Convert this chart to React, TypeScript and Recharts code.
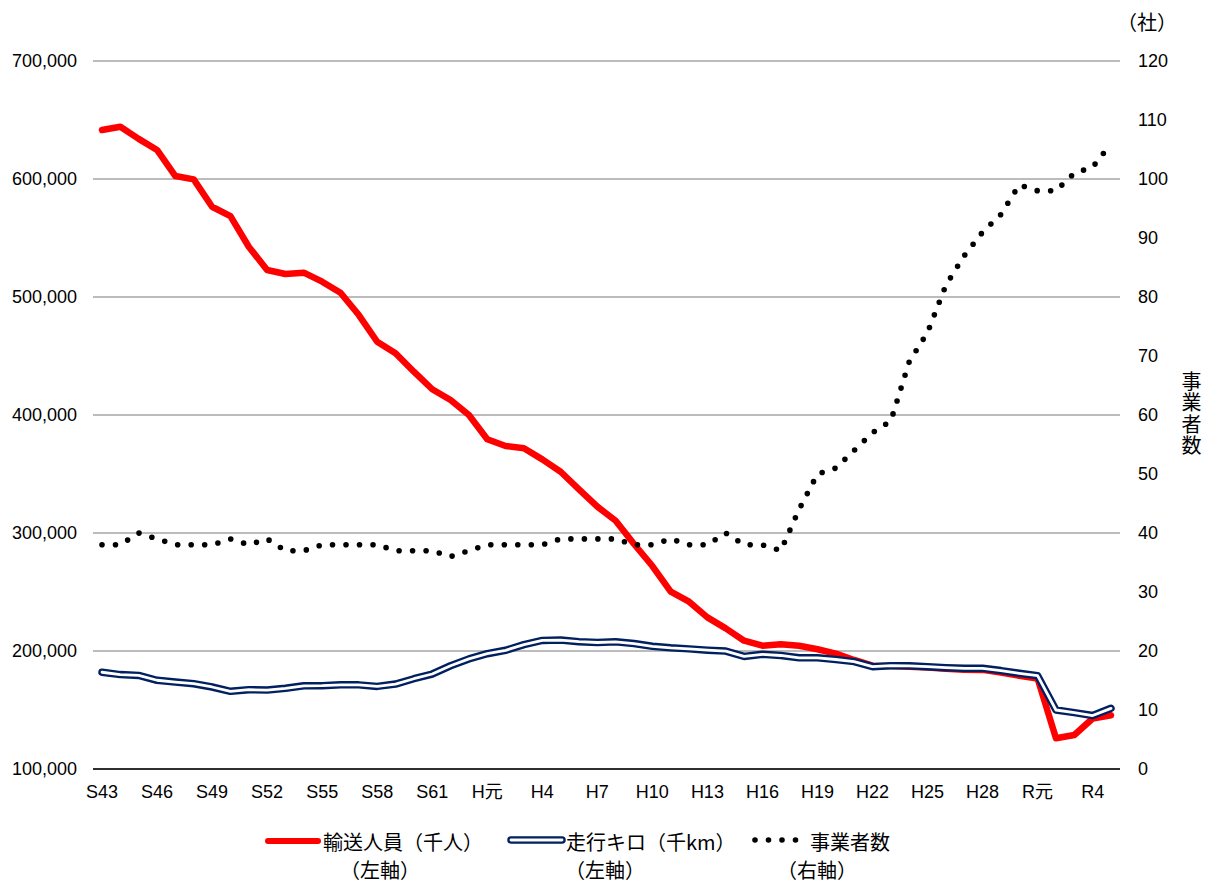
import { CartesianGrid, Line, LineChart, XAxis, YAxis } from "recharts";

// fiscal years S43 (1968) .. R5 (2023)
const years = [
  "S43", "S44", "S45", "S46", "S47", "S48", "S49", "S50", "S51", "S52",
  "S53", "S54", "S55", "S56", "S57", "S58", "S59", "S60", "S61", "S62",
  "S63", "H元", "H2", "H3", "H4", "H5", "H6", "H7", "H8", "H9",
  "H10", "H11", "H12", "H13", "H14", "H15", "H16", "H17", "H18", "H19",
  "H20", "H21", "H22", "H23", "H24", "H25", "H26", "H27", "H28", "H29",
  "H30", "R元", "R2", "R3", "R4", "R5",
];

// 輸送人員（千人）
const passengers = [
  641500, 644300, 634000, 624600, 602500, 599700, 576500, 568600, 542600, 522900,
  519500, 520600, 513000, 503600, 484700, 462100, 452300, 436700, 421800, 412700,
  400000, 379400, 373700, 371800, 362400, 351900, 337000, 322300, 310400, 290700,
  272000, 250300, 241800, 228500, 219200, 208700, 204500, 205700, 204500, 201500,
  197800, 192400, 187600, 187300, 186600, 186000, 185000, 184200, 184000, 181800,
  179000, 176600, 126000, 128800, 142800, 145600,
];

// 走行キロ（千km）
const vehicleKm = [
  182000, 180000, 179300, 175200, 173700, 172300, 169500, 165800, 167200, 166900,
  168400, 170500, 170600, 171300, 171300, 170000, 172000, 176500, 180500, 187500,
  193300, 197700, 200600, 205400, 209000, 209300, 207900, 207200, 207800, 206300,
  204000, 202700, 201800, 200700, 199900, 195400, 197200, 196200, 194200, 194200,
  192800, 191000, 186700, 187600, 187400, 186700, 185900, 185300, 185300, 183400,
  181100, 179100, 150000, 147800, 145300, 151400,
];

// 事業者数（社）
const operators = [
  38, 38, 40, 39, 38, 38, 38, 39, 38, 39,
  37, 37, 38, 38, 38, 38, 37, 37, 37, 36,
  37, 38, 38, 38, 38, 39, 39, 39, 39, 38,
  38, 39, 38, 38, 40, 38, 38, 37, 44, 50,
  51, 54, 57, 59, 69, 74, 82, 87, 91, 94,
  99, 98, 98, 101, 102, 106,
];

const leftTicks = [100000, 200000, 300000, 400000, 500000, 600000, 700000];
const rightTicks = [0, 10, 20, 30, 40, 50, 60, 70, 80, 90, 100, 110, 120];

const data = years.map((year, i) => ({
  year,
  passengers: passengers[i],
  vehicleKm: vehicleKm[i],
  operators: operators[i],
}));

const FONT = '"Liberation Sans", "Noto Sans CJK JP", sans-serif';
const CJK = '"Noto Sans CJK JP", sans-serif';
const NAVY = "#002060";

const tickStyle = { fontSize: 18, fill: "#000" };

function LegendText({ x, y, text }: { x: number; y: number; text: string }) {
  return (
    <div
      style={{
        position: "absolute",
        left: x,
        top: y - 12,
        height: 24,
        lineHeight: "24px",
        fontSize: 20,
        fontFamily: CJK,
        color: "#000",
        whiteSpace: "nowrap",
      }}
    >
      {text}
    </div>
  );
}

export default function App() {
  return (
    <div
      style={{
        position: "absolute",
        left: 0,
        top: 0,
        width: 1208,
        height: 882,
        background: "#fff",
        fontFamily: FONT,
      }}
    >
      <LineChart
        width={1208}
        height={882}
        data={data}
        margin={{ top: 61, right: 0, bottom: 83, left: 0 }}
      >
        <CartesianGrid yAxisId="left" vertical={false} stroke="#a6a6a6" strokeWidth={1.3} />
        <XAxis
          dataKey="year"
          interval={2}
          height={30}
          padding={{ left: 9, right: 9 }}
          tickLine={false}
          axisLine={{ stroke: "#000", strokeWidth: 1.3 }}
          tick={tickStyle}
          tickMargin={10}
        />
        <YAxis
          yAxisId="left"
          width={93}
          domain={[100000, 700000]}
          ticks={leftTicks}
          axisLine={false}
          tickLine={false}
          tick={tickStyle}
          tickMargin={10}
          tickFormatter={(v: number) => v.toLocaleString("en-US")}
        />
        <YAxis
          yAxisId="right"
          orientation="right"
          width={88}
          domain={[0, 120]}
          ticks={rightTicks}
          axisLine={false}
          tickLine={false}
          tick={tickStyle}
          tickMargin={12}
        />
        <Line
          yAxisId="left"
          type="linear"
          dataKey="passengers"
          stroke="#ff0000"
          strokeWidth={6.5}
          strokeLinejoin="round"
          strokeLinecap="round"
          dot={false}
          activeDot={false}
          isAnimationActive={false}
        />
        <Line
          yAxisId="left"
          type="linear"
          dataKey="vehicleKm"
          stroke={NAVY}
          strokeWidth={7.5}
          strokeLinejoin="round"
          strokeLinecap="round"
          dot={false}
          activeDot={false}
          isAnimationActive={false}
        />
        <Line
          yAxisId="left"
          type="linear"
          dataKey="vehicleKm"
          stroke="#fff"
          strokeWidth={2.8}
          strokeLinejoin="round"
          strokeLinecap="round"
          dot={false}
          activeDot={false}
          isAnimationActive={false}
        />
        <Line
          yAxisId="right"
          type="linear"
          dataKey="operators"
          stroke="#000"
          strokeWidth={5.6}
          strokeDasharray="0 13.5"
          strokeLinecap="round"
          dot={false}
          activeDot={false}
          isAnimationActive={false}
        />
      </LineChart>

      {/* right axis unit and title */}
      <div style={{ position: "absolute", left: 1117, top: 10, fontSize: 20, fontFamily: CJK, lineHeight: "24px" }}>
        （社）
      </div>
      <div
        style={{
          position: "absolute",
          left: 1180,
          top: 371,
          writingMode: "vertical-rl",
          fontSize: 20,
          lineHeight: "22px",
          letterSpacing: "1.5px",
          fontFamily: CJK,
        }}
      >
        事業者数
      </div>

      {/* legend */}
      <svg style={{ position: "absolute", left: 0, top: 825 }} width={1208} height={30}>
        <line x1={268} y1={16} x2={318} y2={16} stroke="#ff0000" strokeWidth={6} strokeLinecap="round" />
        <line x1={511} y1={15} x2={562} y2={15} stroke={NAVY} strokeWidth={7.5} strokeLinecap="round" />
        <line x1={511} y1={15} x2={562} y2={15} stroke="#fff" strokeWidth={2.8} strokeLinecap="round" />
        <line
          x1={755}
          y1={15}
          x2={796}
          y2={15}
          stroke="#000"
          strokeWidth={5.6}
          strokeDasharray="0 13.5"
          strokeLinecap="round"
        />
      </svg>
      <LegendText x={323} y={842} text="輸送人員（千人）" />
      <LegendText x={340} y={870} text="（左軸）" />
      <LegendText x={566} y={842} text="走行キロ（千km）" />
      <LegendText x={565} y={870} text="（左軸）" />
      <LegendText x={810} y={842} text="事業者数" />
      <LegendText x={777} y={870} text="（右軸）" />
    </div>
  );
}
